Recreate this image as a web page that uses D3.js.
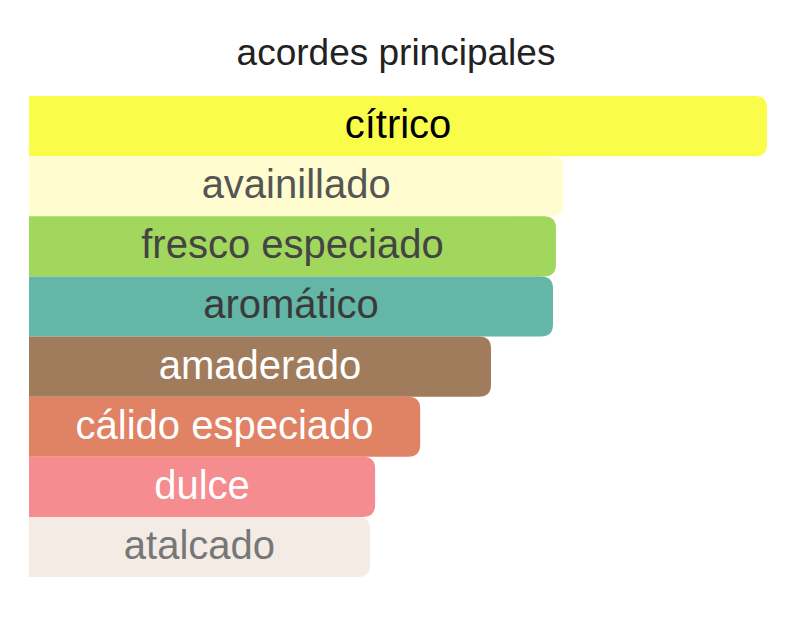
<!DOCTYPE html>
<html>
<head>
<meta charset="utf-8">
<script src="https://cdn.jsdelivr.net/npm/d3@7"></script>
<style>
  html, body { margin: 0; padding: 0; background: #fff; }
  svg { display: block; }
</style>
</head>
<body>
<svg id="chart" width="792" height="629"></svg>
<script>
const title = "acordes principales";
const categories = ["cítrico", "avainillado", "fresco especiado", "aromático", "amaderado", "cálido especiado", "dulce", "atalcado"];
const values = [100, 72.4, 71.4, 71.0, 62.6, 53.0, 46.9, 46.2];
const barColors = ["#F9FC48", "#FFFDD0", "#A0D75C", "#64B6A6", "#A07C5C", "#E08264", "#F48C90", "#F4ECE4"];
const textColors = ["#000000", "#555555", "#444444", "#3a3a3a", "#ffffff", "#ffffff", "#ffffff", "#777777"];

const svg = d3.select("#chart");
const margin = { left: 29, right: 25, top: 96, bottom: 52 };
const W = 792, H = 629;

const x = d3.scaleLinear().domain([0, 100]).range([margin.left, W - margin.right]);
const y = d3.scaleBand().domain(categories).range([margin.top, H - margin.bottom]).padding(0);

svg.append("text")
  .attr("x", 396).attr("y", 65)
  .attr("text-anchor", "middle")
  .attr("font-family", "Liberation Sans, Arial, sans-serif")
  .attr("font-size", 37)
  .attr("fill", "#222")
  .text(title);

const r = 12;
function barPath(x0, x1, y0, h) {
  const rr = Math.min(r, (x1 - x0) / 2, h / 2);
  return `M${x0},${y0} H${x1 - rr} Q${x1},${y0} ${x1},${y0 + rr} V${y0 + h - rr} Q${x1},${y0 + h} ${x1 - rr},${y0 + h} H${x0} Z`;
}

const data = categories.map((c, i) => ({ c, v: values[i], fill: barColors[i], tc: textColors[i] }));

const g = svg.append("g");
g.selectAll("path.bar").data(data).join("path")
  .attr("class", "bar")
  .attr("d", d => barPath(x(0), x(d.v), y(d.c), y.bandwidth()))
  .attr("fill", d => d.fill);

g.selectAll("text.lbl").data(data).join("text")
  .attr("class", "lbl")
  .attr("x", d => (x(0) + x(d.v)) / 2)
  .attr("y", d => y(d.c) + y.bandwidth() / 2)
  .attr("dy", "0.3em")
  .attr("text-anchor", "middle")
  .attr("font-family", "Liberation Sans, Arial, sans-serif")
  .attr("font-size", 40)
  .attr("fill", d => d.tc)
  .text(d => d.c);
</script>
</body>
</html>
